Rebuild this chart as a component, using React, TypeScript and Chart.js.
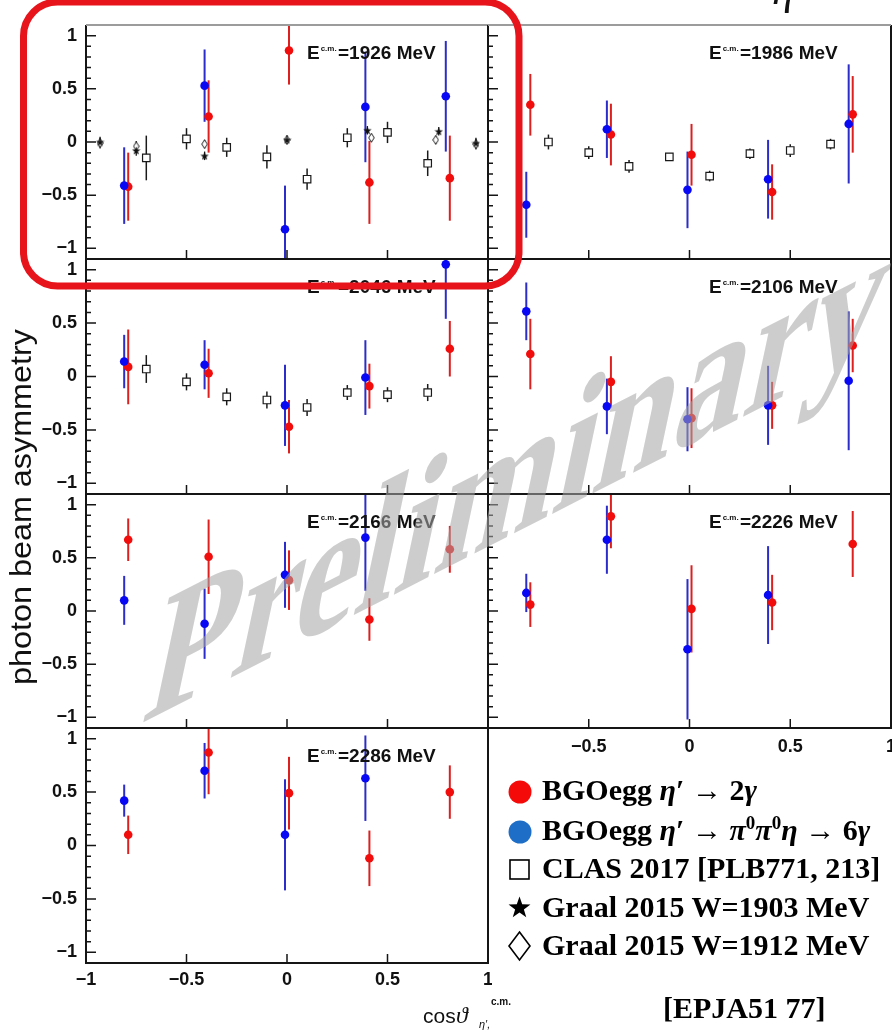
import React, { useEffect, useRef } from "react";
import { Chart, registerables } from "chart.js";

Chart.register(...registerables);

const SANS = '"Liberation Sans", Arial, Helvetica, sans-serif';
const SERIF = '"Liberation Serif", "Times New Roman", Times, serif';

// ---------------- data ----------------
const energies = [1926, 1986, 2046, 2106, 2166, 2226, 2286];

const xTicksLeft = [-1, -0.5, 0, 0.5, 1];
const xTicksRight = [-0.5, 0, 0.5, 1];
const yTicks = [-1, -0.5, 0, 0.5, 1];
const yMinorTicks = [-0.9, -0.8, -0.7, -0.6, -0.4, -0.3, -0.2, -0.1, 0.1, 0.2, 0.3, 0.4, 0.6, 0.7, 0.8, 0.9];
const xMajorTicks = [-0.5, 0, 0.5];

// BGOegg eta' -> 2 gamma (red)
const cos2g = [-0.79, -0.39, 0.01, 0.41, 0.81];
const asym2g = [
  [-0.42, 0.24, 0.86, -0.38, -0.34],
  [0.35, 0.07, -0.12, -0.47, 0.26],
  [0.09, 0.03, -0.47, -0.09, 0.26],
  [0.21, -0.05, -0.39, -0.27, 0.29],
  [0.67, 0.51, 0.29, -0.08, 0.58],
  [0.06, 0.89, 0.02, 0.08, 0.63],
  [0.10, 0.87, 0.49, -0.12, 0.50],
];
const err2g = [
  [0.32, 0.34, 0.32, 0.39, 0.40],
  [0.29, 0.29, 0.29, 0.26, 0.36],
  [0.35, 0.23, 0.25, 0.21, 0.26],
  [0.33, 0.24, 0.28, 0.22, 0.25],
  [0.20, 0.35, 0.28, 0.20, 0.22],
  [0.21, 0.30, 0.41, 0.26, 0.31],
  [0.18, 0.39, 0.34, 0.26, 0.25],
];

// BGOegg eta' -> pi0 pi0 eta -> 6 gamma (blue)
const cos6g = [-0.81, -0.41, -0.01, 0.39, 0.79];
const asym6g = [
  [-0.41, 0.53, -0.82, 0.33, 0.43],
  [-0.59, 0.12, -0.45, -0.35, 0.17],
  [0.14, 0.11, -0.27, -0.01, 1.05],
  [0.61, -0.28, -0.40, -0.27, -0.04],
  [0.10, -0.12, 0.34, 0.69, null],
  [0.17, 0.67, -0.36, 0.15, null],
  [0.42, 0.70, 0.10, 0.63, null],
];
const err6g = [
  [0.36, 0.34, 0.41, 0.52, 0.52],
  [0.31, 0.27, 0.36, 0.37, 0.56],
  [0.25, 0.23, 0.38, 0.35, 0.51],
  [0.27, 0.26, 0.30, 0.37, 0.65],
  [0.23, 0.33, 0.31, 0.50, null],
  [0.18, 0.32, 0.66, 0.46, null],
  [0.15, 0.26, 0.52, 0.40, null],
];

// CLAS 2017 (open squares), panels 1926, 1986, 2046
const clasPanels = [0, 1, 2];
const clasCos = [-0.7, -0.5, -0.3, -0.1, 0.1, 0.3, 0.5, 0.7];
const clasAsym = [
  [-0.15, 0.03, -0.05, -0.14, -0.35, 0.04, 0.09, -0.20],
  [0.00, -0.10, -0.23, -0.14, -0.32, -0.11, -0.08, -0.02],
  [0.07, -0.05, -0.19, -0.22, -0.29, -0.15, -0.17, -0.15],
];
const clasErr = [
  [0.21, 0.10, 0.09, 0.11, 0.10, 0.09, 0.10, 0.12],
  [0.07, 0.06, 0.06, 0.03, 0.05, 0.05, 0.06, 0.05],
  [0.13, 0.08, 0.08, 0.08, 0.08, 0.07, 0.07, 0.08],
];

// Graal 2015 (panel 1926 only)
const graalPanel = 0;
const graal1903Cos = [-0.93, -0.75, -0.41, 0.0, 0.40, 0.755, 0.94];
const graal1903Asym = [0.0, -0.08, -0.13, 0.02, 0.11, 0.10, -0.01];
const graal1903Err = [0.05, 0.05, 0.04, 0.04, 0.04, 0.04, 0.05];
const graal1912Cos = [-0.93, -0.75, -0.41, 0.0, 0.42, 0.74, 0.94];
const graal1912Asym = [-0.01, -0.04, -0.02, 0.02, 0.04, 0.02, -0.02];
const graal1912Err = [0.05, 0.05, 0.04, 0.04, 0.04, 0.04, 0.05];

// ---------------- layout ----------------
const colLeft = [86, 488];
const colRight = [488, 891];
const rowTop = [25, 259, 494, 728];
const rowBottom = [259, 494, 728, 963];
const panelCol = [0, 1, 0, 1, 0, 1, 0];
const panelRow = [0, 0, 1, 1, 2, 2, 3];
const xLabelPanels = [5, 6];

function fmtTick(v: number): string {
  if (Math.abs(v) < 1e-9) return "0";
  return v < 0 ? "\u2212" + String(-v) : String(v);
}

function makeStar(): HTMLCanvasElement {
  const c = document.createElement("canvas");
  c.width = 9;
  c.height = 9;
  const g = c.getContext("2d")!;
  g.beginPath();
  for (let i = 0; i < 10; i++) {
    const r = i % 2 === 0 ? 4.4 : 1.8;
    const a = -Math.PI / 2 + (i * Math.PI) / 5;
    g.lineTo(4.5 + r * Math.cos(a), 4.9 + r * Math.sin(a));
  }
  g.closePath();
  g.fillStyle = "#111";
  g.fill();
  return c;
}

function makeDiamond(): HTMLCanvasElement {
  const c = document.createElement("canvas");
  c.width = 7;
  c.height = 10;
  const g = c.getContext("2d")!;
  g.beginPath();
  g.moveTo(3.5, 0.7);
  g.lineTo(6.3, 5);
  g.lineTo(3.5, 9.3);
  g.lineTo(0.7, 5);
  g.closePath();
  g.fillStyle = "#fff";
  g.fill();
  g.strokeStyle = "#222";
  g.lineWidth = 1;
  g.stroke();
  return c;
}

const errorBarPlugin = {
  id: "errorBars",
  beforeDatasetsDraw(chart: any) {
    const { ctx, chartArea: a, scales } = chart;
    ctx.save();
    ctx.beginPath();
    ctx.rect(a.left, a.top, a.right - a.left, a.bottom - a.top);
    ctx.clip();
    chart.data.datasets.forEach((ds: any, i: number) => {
      if (!ds.errorBars) return;
      const meta = chart.getDatasetMeta(i);
      ctx.strokeStyle = ds.errorColor;
      ctx.lineWidth = ds.errorWidth;
      meta.data.forEach((pt: any, j: number) => {
        const d = ds.data[j];
        const e = ds.errorBars[j];
        const y1 = scales.y.getPixelForValue(d.y + e);
        const y2 = scales.y.getPixelForValue(d.y - e);
        ctx.beginPath();
        ctx.moveTo(pt.x, y1);
        ctx.lineTo(pt.x, y2);
        ctx.stroke();
      });
    });
    ctx.restore();
  },
};

function Panel({ p }: { p: number }) {
  const ref = useRef<HTMLCanvasElement | null>(null);
  const col = panelCol[p];
  const row = panelRow[p];
  const showX = xLabelPanels.includes(p);
  const showY = col === 0;
  const L = colLeft[col];
  const R = colRight[col];
  const T = rowTop[row];
  const B = rowBottom[row];
  const cx = col === 0 ? 0 : L - 4;
  const cy = T - 4;
  const padRight = col === 0 ? 4 : 1;
  const cw = R + padRight - cx;
  const axisH = col === 0 ? 37 : 36;
  const ch = B - cy + (showX ? axisH : 4);

  useEffect(() => {
    const datasets: any[] = [];
    const bluePts: any[] = [];
    const blueErr: number[] = [];
    cos6g.forEach((x, j) => {
      const y = asym6g[p][j];
      if (y !== null) {
        bluePts.push({ x, y });
        blueErr.push(err6g[p][j] as number);
      }
    });
    datasets.push({
      label: "BGOegg η′ → π⁰π⁰η → 6γ",
      data: bluePts,
      errorBars: blueErr,
      errorColor: "#2c2cc8",
      errorWidth: 2,
      pointStyle: "circle",
      pointRadius: 4.3,
      backgroundColor: "#0808f4",
      borderWidth: 0,
    });
    datasets.push({
      label: "BGOegg η′ → 2γ",
      data: cos2g.map((x, j) => ({ x, y: asym2g[p][j] })),
      errorBars: err2g[p],
      errorColor: "#dc2020",
      errorWidth: 2,
      pointStyle: "circle",
      pointRadius: 4.3,
      backgroundColor: "#f20d0d",
      borderWidth: 0,
    });
    const ci = clasPanels.indexOf(p);
    if (ci >= 0) {
      datasets.push({
        label: "CLAS 2017",
        data: clasCos.map((x, j) => ({ x, y: clasAsym[ci][j] })),
        errorBars: clasErr[ci],
        errorColor: "#1a1a1a",
        errorWidth: 1.5,
        pointStyle: "rect",
        pointRadius: 5.3,
        backgroundColor: "#ffffff",
        borderColor: "#1a1a1a",
        borderWidth: 1.2,
      });
    }
    if (p === graalPanel) {
      datasets.push({
        label: "Graal 2015 W=1903 MeV",
        data: graal1903Cos.map((x, j) => ({ x, y: graal1903Asym[j] })),
        errorBars: graal1903Err,
        errorColor: "#1a1a1a",
        errorWidth: 1.3,
        pointStyle: makeStar(),
        pointRadius: 4,
      });
      datasets.push({
        label: "Graal 2015 W=1912 MeV",
        data: graal1912Cos.map((x, j) => ({ x, y: graal1912Asym[j] })),
        errorBars: graal1912Err,
        errorColor: "#1a1a1a",
        errorWidth: 1.3,
        pointStyle: makeDiamond(),
        pointRadius: 4,
      });
    }

    const framePlugin = {
      id: "frame",
      afterDraw(chart: any) {
        const { ctx, chartArea: a, scales } = chart;
        const xs = scales.x;
        const ys = scales.y;
        ctx.save();
        ctx.strokeStyle = "#151515";
        ctx.lineWidth = 1.5;
        ctx.beginPath();
        yMinorTicks.forEach((v) => {
          const py = ys.getPixelForValue(v);
          ctx.moveTo(a.left, py);
          ctx.lineTo(a.left + 5, py);
        });
        yTicks.forEach((v) => {
          const py = ys.getPixelForValue(v);
          ctx.moveTo(a.left, py);
          ctx.lineTo(a.left + 10, py);
        });
        xMajorTicks.forEach((v) => {
          const px = xs.getPixelForValue(v);
          ctx.moveTo(px, a.bottom);
          ctx.lineTo(px, a.bottom - 9);
        });
        ctx.stroke();
        ctx.lineWidth = 2;
        ctx.beginPath();
        ctx.moveTo(a.left, a.top);
        ctx.lineTo(a.left, a.bottom);
        ctx.lineTo(a.right, a.bottom);
        ctx.lineTo(a.right, a.top);
        ctx.stroke();
        ctx.strokeStyle = row === 0 ? "#9c9c9c" : "#151515";
        ctx.beginPath();
        ctx.moveTo(a.left, a.top);
        ctx.lineTo(a.right, a.top);
        ctx.stroke();

        // energy label
        ctx.fillStyle = "#111";
        ctx.textAlign = "left";
        ctx.textBaseline = "alphabetic";
        const x0 = a.left + 221;
        const base = a.top + 34;
        ctx.font = `bold 19px ${SANS}`;
        ctx.fillText("E", x0, base);
        const wE = ctx.measureText("E").width;
        ctx.font = `bold 8px ${SANS}`;
        ctx.fillText("c.m.", x0 + wE + 1, base - 8);
        ctx.font = `bold 19px ${SANS}`;
        ctx.fillText(`=${energies[p]} MeV`, x0 + 31, base);
        ctx.restore();
      },
    };

    const tickFont = { family: SANS, size: 18, weight: "bold" as const };
    const chart = new Chart(ref.current!, {
      type: "scatter",
      data: { datasets },
      options: {
        animation: false,
        responsive: false,
        maintainAspectRatio: false,
        devicePixelRatio: 1,
        events: [],
        layout: {
          autoPadding: false,
          padding: { left: showY ? 0 : 4, right: padRight, top: 4, bottom: showX ? 0 : 4 },
        },
        plugins: { legend: { display: false }, tooltip: { enabled: false } },
        scales: {
          x: {
            type: "linear",
            min: -1,
            max: 1,
            display: showX,
            grid: { display: false, drawTicks: false },
            border: { display: false },
            afterBuildTicks: (s: any) => {
              s.ticks = (col === 0 ? xTicksLeft : xTicksRight).map((v) => ({ value: v }));
            },
            afterFit: (s: any) => {
              if (!showX) return;
              s.height = axisH;
              s.paddingLeft = 0;
              s.paddingRight = 0;
            },
            ticks: {
              font: tickFont,
              color: "#111",
              padding: col === 0 ? 6 : 8,
              maxRotation: 0,
              autoSkip: false,
              callback: (v: any) => fmtTick(Number(v)),
            },
          },
          y: {
            type: "linear",
            min: -1.1,
            max: 1.1,
            display: showY,
            grid: { display: false, drawTicks: false },
            border: { display: false },
            afterBuildTicks: (s: any) => {
              s.ticks = yTicks.map((v) => ({ value: v }));
            },
            afterFit: (s: any) => {
              if (!showY) return;
              s.width = 86;
              s.paddingTop = 0;
              s.paddingBottom = 0;
            },
            ticks: {
              font: tickFont,
              color: "#111",
              padding: 9,
              autoSkip: false,
              callback: (v: any) => fmtTick(Number(v)),
            },
          },
        },
      } as any,
      plugins: [errorBarPlugin, framePlugin],
    });
    return () => chart.destroy();
  }, [p]);

  return (
    <canvas
      ref={ref}
      width={cw}
      height={ch}
      style={{ position: "absolute", left: cx, top: cy, width: cw, height: ch }}
    />
  );
}

function starPoints(cx: number, cy: number, ro: number, ri: number): string {
  const pts: string[] = [];
  for (let i = 0; i < 10; i++) {
    const r = i % 2 === 0 ? ro : ri;
    const a = -Math.PI / 2 + (i * Math.PI) / 5;
    pts.push(`${(cx + r * Math.cos(a)).toFixed(2)},${(cy + r * Math.sin(a)).toFixed(2)}`);
  }
  return pts.join(" ");
}

// watermark transform: baseline rising ~27deg, glyph verticals leaning right ~12deg, glyphs a bit taller
const wmBase = (-27 * Math.PI) / 180;
const wmLean = (12 * Math.PI) / 180;
const wmTall = 1.22;
const wmMatrix = `matrix(${Math.cos(wmBase).toFixed(4)} ${Math.sin(wmBase).toFixed(4)} ${(-Math.sin(wmLean) * wmTall).toFixed(4)} ${(Math.cos(wmLean) * wmTall).toFixed(4)} 140 724)`;

export default function App() {
  return (
    <div
      style={{
        position: "absolute",
        left: 0,
        top: 0,
        width: 892,
        height: 1030,
        overflow: "hidden",
        background: "#fff",
      }}
    >
      {energies.map((_, p) => (
        <Panel key={p} p={p} />
      ))}
      <svg
        width={892}
        height={1030}
        style={{ position: "absolute", left: 0, top: 0, pointerEvents: "none" }}
      >
        {/* fragment of title above */}
        <text x={772} y={4} fontFamily={SERIF} fontStyle="italic" fontSize={44} fill="#111">
          η
        </text>

        {/* y axis title */}
        <text
          transform="translate(31,507) rotate(-90)"
          textAnchor="middle"
          fontFamily={SANS}
          fontSize={30}
          fill="#111"
          textLength={356}
          lengthAdjust="spacingAndGlyphs"
        >
          photon beam asymmetry
        </text>

        {/* x axis title */}
        <g fill="#111" fontFamily={SANS}>
          <text x={423} y={1023} fontSize={21}>cos</text>
          <text x={456} y={1023} fontSize={24} fontStyle="italic" fontFamily={SERIF}>ϑ</text>
          <text x={479} y={1028} fontSize={11} fontStyle="italic">η′,</text>
          <text x={491} y={1005} fontSize={10} fontWeight="bold">c.m.</text>
        </g>

        {/* legend */}
        <g fontFamily={SERIF} fontWeight="bold" fontSize={30} fill="#000">
          <circle cx={520} cy={792} r={11.5} fill="#f50a0a" />
          <text x={542} y={800}>
            BGOegg <tspan fontStyle="italic">η</tspan>′ → 2<tspan fontStyle="italic">γ</tspan>
          </text>
          <circle cx={520} cy={832} r={11.5} fill="#1e6ec8" />
          <text x={542} y={840}>
            BGOegg <tspan fontStyle="italic">η</tspan>′ → <tspan fontStyle="italic">π</tspan>
            <tspan dy={-11} fontSize={19}>0</tspan>
            <tspan dy={11} fontStyle="italic">π</tspan>
            <tspan dy={-11} fontSize={19}>0</tspan>
            <tspan dy={11} fontStyle="italic">η</tspan> → 6<tspan fontStyle="italic">γ</tspan>
          </text>
          <rect x={510} y={860} width={19} height={19} fill="#fff" stroke="#000" strokeWidth={1.6} />
          <text x={542} y={878}>CLAS 2017 [PLB771, 213]</text>
          <polygon points={starPoints(519.5, 908, 11.5, 4.6)} fill="#000" />
          <text x={542} y={917}>Graal 2015 W=1903 MeV</text>
          <polygon
            points="519.5,932 530,946 519.5,960 509,946"
            fill="#fff"
            stroke="#000"
            strokeWidth={1.6}
          />
          <text x={542} y={955}>Graal 2015 W=1912 MeV</text>
          <text x={663} y={1018}>[EPJA51 77]</text>
        </g>

        {/* watermark */}
        <text
          x={0}
          y={0}
          transform={wmMatrix}
          fontFamily={SERIF}
          fontWeight="bold"
          fontSize={160}
          fill="rgb(165,165,165)"
          fillOpacity={0.56}
        >
          Preliminary
        </text>

        {/* highlight box */}
        <rect
          x={23.5}
          y={2}
          width={495.5}
          height={284}
          rx={34}
          ry={34}
          fill="none"
          stroke="#e8141c"
          strokeWidth={7}
        />
      </svg>
    </div>
  );
}
